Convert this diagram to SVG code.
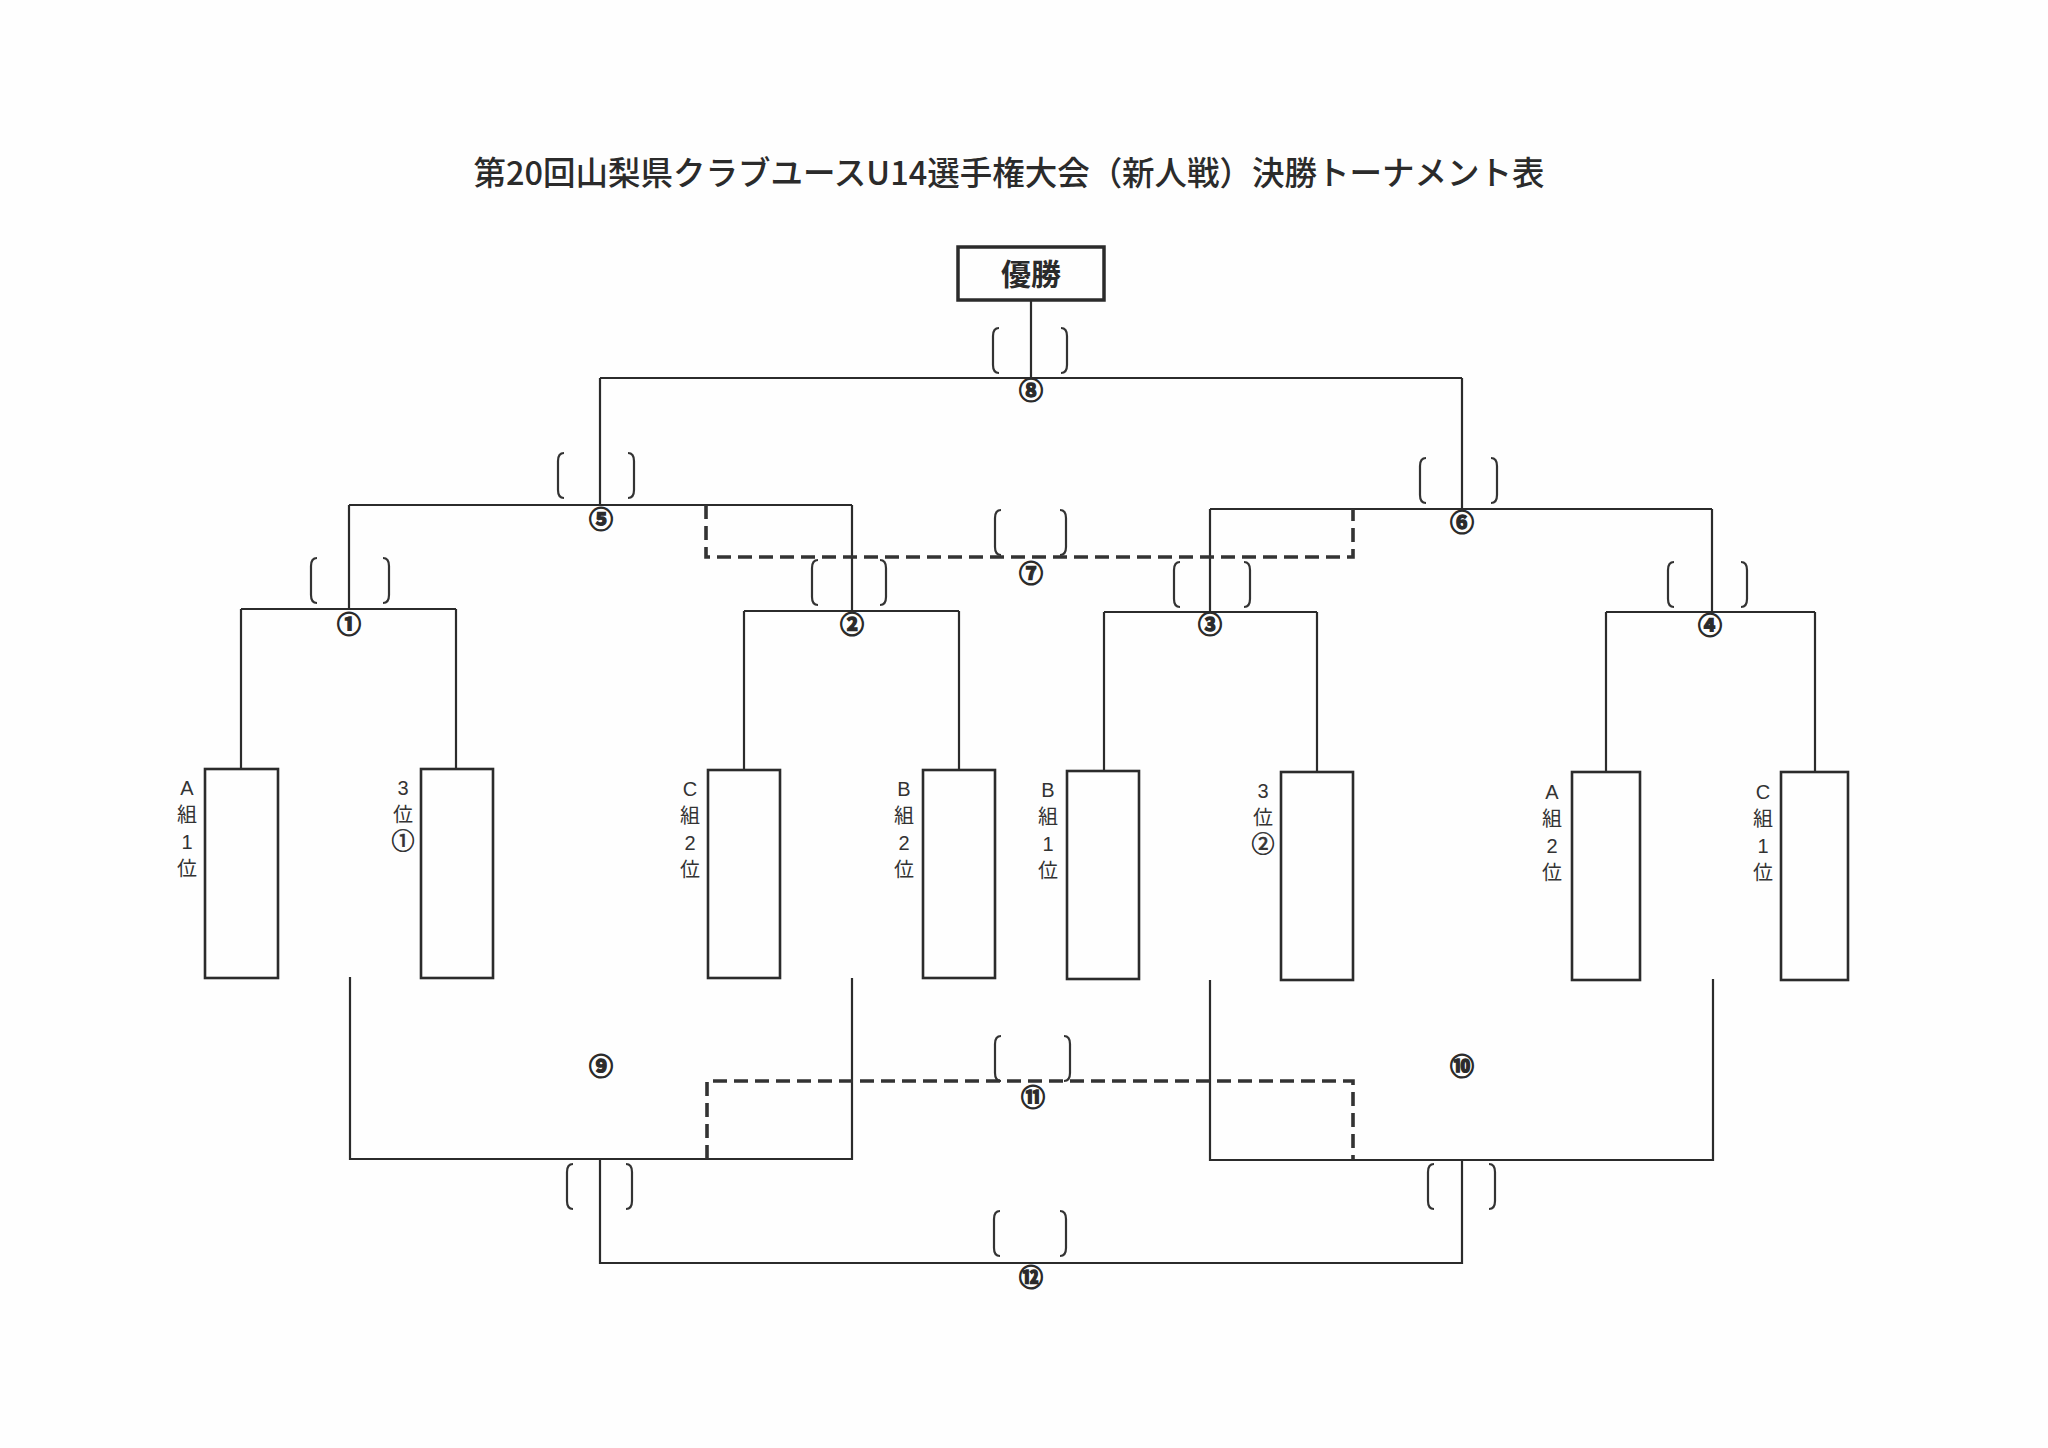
<svg xmlns="http://www.w3.org/2000/svg" width="2048" height="1448" viewBox="0 0 2048 1448">
<style>
.ln{fill:none;stroke:#2b2b2b;stroke-width:2.2}
.ds{fill:none;stroke:#333;stroke-width:3.6;stroke-dasharray:14 7}
.bx{fill:none;stroke:#2b2b2b;stroke-width:2.6}
.br{fill:none;stroke:#333;stroke-width:2.2}
.lb{font-family:"Liberation Sans","Noto Sans CJK JP",sans-serif;font-size:20px;fill:#333;text-anchor:middle}
.ci{font-family:"Noto Sans CJK JP",sans-serif;font-size:23px;fill:#333;stroke:#333;stroke-width:0.7}
.cn{font-family:"Noto Sans CJK JP",sans-serif;font-size:24px;font-weight:bold;fill:#2b2b2b;stroke:#2b2b2b;stroke-width:1.3;text-anchor:middle}
</style>
<defs>
<path id="bl" class="br" d="M6,0 Q0,0 0,8 L0,37 Q0,45 6,45"/>
<path id="bri" class="br" d="M-6,0 Q0,0 0,8 L0,37 Q0,45 -6,45"/>
</defs>
<rect width="2048" height="1448" fill="#fefefe"/>
<text id="title" x="1009" y="185" font-family="'Noto Sans CJK JP',sans-serif" font-size="33" font-weight="500" fill="#2b2b2b" text-anchor="middle" textLength="1071" lengthAdjust="spacingAndGlyphs">第20回山梨県クラブユースU14選手権大会（新人戦）決勝トーナメント表</text>
<g id="winner">
<rect x="958" y="247" width="146" height="53" fill="none" stroke="#2b2b2b" stroke-width="3.5"/>
<text x="1031" y="285" font-family="'Noto Sans CJK JP',sans-serif" font-size="30" font-weight="bold" fill="#2b2b2b" text-anchor="middle">優勝</text>
</g>
<g id="connectors">
<path class="ln" d="M1031,300 V378 M600,378 H1462 M600,378 V505 M1462,378 V509"/>
<path class="ln" d="M349,505 H852 M349,505 V609 M852,505 V611 M1210,509 H1712 M1210,509 V612 M1712,509 V612"/>
<path class="ln" d="M241,609 H456 M241,609 V769 M456,609 V769 M744,611 H959 M744,611 V770 M959,611 V770 M1104,612 H1317 M1104,612 V771 M1317,612 V772 M1606,612 H1815 M1606,612 V772 M1815,612 V772"/>
<path class="ln" d="M350,977 V1159 H852 V978 M1210,980 V1160 H1713 V979 M600,1159 V1263 H1462 V1160"/>
<path class="ds" d="M706,505 V557 H1353 V509"/>
<path class="ds" d="M707,1159 V1081 H1353 V1159"/>
</g>
<g id="brackets">
<use href="#bl" x="993" y="328"/><use href="#bri" x="1067" y="328"/>
<use href="#bl" x="558" y="453"/><use href="#bri" x="634" y="453"/>
<use href="#bl" x="1420" y="458"/><use href="#bri" x="1497" y="458"/>
<use href="#bl" x="995" y="510"/><use href="#bri" x="1066" y="510"/>
<use href="#bl" x="311" y="558"/><use href="#bri" x="389" y="558"/>
<use href="#bl" x="812" y="560"/><use href="#bri" x="886" y="560"/>
<use href="#bl" x="1174" y="562"/><use href="#bri" x="1250" y="562"/>
<use href="#bl" x="1668" y="562"/><use href="#bri" x="1747" y="562"/>
<use href="#bl" x="995" y="1036"/><use href="#bri" x="1070" y="1036"/>
<use href="#bl" x="567" y="1164"/><use href="#bri" x="632" y="1164"/>
<use href="#bl" x="1428" y="1164"/><use href="#bri" x="1495" y="1164"/>
<use href="#bl" x="994" y="1211"/><use href="#bri" x="1066" y="1211"/>
</g>
<g id="matches">
<text class="cn" x="1031" y="399">⑧</text>
<text class="cn" x="601" y="528">⑤</text>
<text class="cn" x="1462" y="531">⑥</text>
<text class="cn" x="1031" y="582">⑦</text>
<text class="cn" x="349" y="633">①</text>
<text class="cn" x="852" y="633">②</text>
<text class="cn" x="1210" y="633">③</text>
<text class="cn" x="1710" y="634">④</text>
<text class="cn" x="601" y="1075">⑨</text>
<text class="cn" x="1462" y="1075">⑩</text>
<text class="cn" x="1033" y="1106">⑪</text>
<text class="cn" x="1031" y="1286">⑫</text>
</g>
<g id="team1"><rect class="bx" x="205" y="769" width="73" height="209"/>
<text class="lb"><tspan x="187" y="795">A</tspan><tspan x="187" y="822">組</tspan><tspan x="187" y="849">1</tspan><tspan x="187" y="876">位</tspan></text></g>
<g id="team2"><rect class="bx" x="421" y="769" width="72" height="209"/>
<text class="lb"><tspan x="403" y="795">3</tspan><tspan x="403" y="822">位</tspan><tspan class="ci" x="403" y="849">①</tspan></text></g>
<g id="team3"><rect class="bx" x="708" y="770" width="72" height="208"/>
<text class="lb"><tspan x="690" y="796">C</tspan><tspan x="690" y="823">組</tspan><tspan x="690" y="850">2</tspan><tspan x="690" y="877">位</tspan></text></g>
<g id="team4"><rect class="bx" x="923" y="770" width="72" height="208"/>
<text class="lb"><tspan x="904" y="796">B</tspan><tspan x="904" y="823">組</tspan><tspan x="904" y="850">2</tspan><tspan x="904" y="877">位</tspan></text></g>
<g id="team5"><rect class="bx" x="1067" y="771" width="72" height="208"/>
<text class="lb"><tspan x="1048" y="797">B</tspan><tspan x="1048" y="824">組</tspan><tspan x="1048" y="851">1</tspan><tspan x="1048" y="878">位</tspan></text></g>
<g id="team6"><rect class="bx" x="1281" y="772" width="72" height="208"/>
<text class="lb"><tspan x="1263" y="798">3</tspan><tspan x="1263" y="825">位</tspan><tspan class="ci" x="1263" y="852">②</tspan></text></g>
<g id="team7"><rect class="bx" x="1572" y="772" width="68" height="208"/>
<text class="lb"><tspan x="1552" y="799">A</tspan><tspan x="1552" y="826">組</tspan><tspan x="1552" y="853">2</tspan><tspan x="1552" y="880">位</tspan></text></g>
<g id="team8"><rect class="bx" x="1781" y="772" width="67" height="208"/>
<text class="lb"><tspan x="1763" y="799">C</tspan><tspan x="1763" y="826">組</tspan><tspan x="1763" y="853">1</tspan><tspan x="1763" y="880">位</tspan></text></g>
</svg>
